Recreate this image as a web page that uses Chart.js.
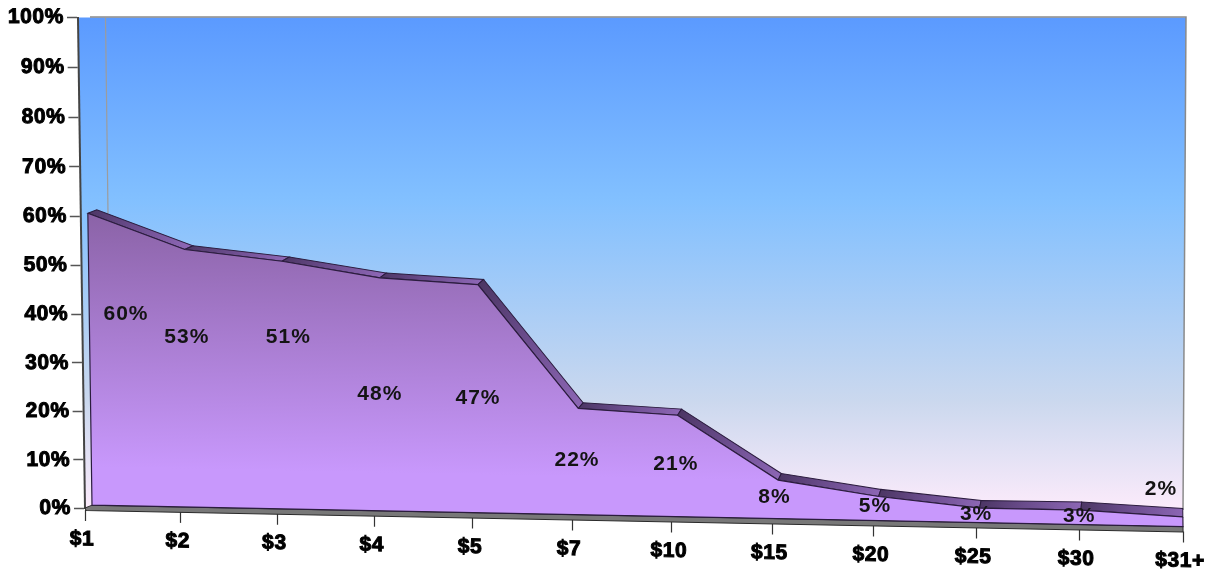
<!DOCTYPE html>
<html>
<head>
<meta charset="utf-8">
<style>html,body{margin:0;padding:0;background:#fff}canvas{display:block}</style>
<script src="https://cdn.jsdelivr.net/npm/chart.js@4/dist/chart.umd.js"></script>
</head>
<body>
<canvas id="c" width="1223" height="571"></canvas>
<script>
const priceLabels = ['$1','$2','$3','$4','$5','$7','$10','$15','$20','$25','$30','$31+'];
const shareValues = [60,53,51,48,47,22,21,8,5,3,3,2];
const percentStep = 10;

// where the value captions sit: sideways nudge in px, height in axis percent
const captionNudge = [41,6,11,5,5,5,4,2,1,0,0,-22];
const captionLevel = [40,35.3,35.3,23.5,22.8,10,9,2.2,0.4,-1.3,-1.7,4];

const TILT = 0.0196, LEAN = 0.0143;
const warp = (d, a) => d * (a + (1 - a) * d);

class TiltedCategory extends Chart.CategoryScale {
  static id = 'tiltedCategory';
  static defaults = Chart.CategoryScale.defaults;
  getPixelForValue(v) {
    const d = v / (this.getLabels().length - 1);
    return this.left + 7 + (this.width - 7) * warp(d, 0.97);
  }
  getPixelForTick(i) {
    const d = this.ticks[i].value / (this.getLabels().length - 1);
    return this.left + this.width * warp(d, 0.9556);
  }
  draw(area) {
    const ctx = this.ctx;
    ctx.save();
    ctx.letterSpacing = '0.6px';
    ctx.transform(1, TILT, 0, 1, 0, -TILT * this.left + 2);
    super.draw(area);
    ctx.restore();
  }
}
class LeaningLinear extends Chart.LinearScale {
  static id = 'leaningLinear';
  static defaults = Chart.LinearScale.defaults;
  getPixelForDecimal(d) { return super.getPixelForDecimal(warp(d, 0.98)); }
  draw(area) {
    const ctx = this.ctx;
    ctx.save();
    ctx.letterSpacing = '0.6px';
    ctx.transform(1, 0, LEAN, 1, -LEAN * this.bottom, 0);
    super.draw(area);
    ctx.restore();
  }
}
Chart.register(TiltedCategory, LeaningLinear);

const ctx = document.getElementById('c').getContext('2d');
const faceGrad = ctx.createLinearGradient(0, 213, 0, 470);
faceGrad.addColorStop(0, '#8a62a6');
faceGrad.addColorStop(1, '#c898fc');

function faceTransform(c, chart) {
  const a = chart.chartArea;
  c.transform(1, TILT, LEAN, 1, -LEAN * a.bottom, -TILT * a.left - 3);
}

const scene = {
  id: 'scene',
  beforeDraw(chart) {
    const c = chart.ctx, a = chart.chartArea;
    const g = c.createLinearGradient(0, a.top, 0, a.bottom + 2);
    g.addColorStop(0, '#5b9aff');
    g.addColorStop(0.37, '#82c0ff');
    g.addColorStop(0.78, '#cbd8ee');
    g.addColorStop(1, '#fcebfb');
    c.save();
    c.fillStyle = g;
    c.beginPath();
    c.moveTo(a.left - 7, a.top);
    c.lineTo(a.right + 3, a.top);
    c.lineTo(a.right, a.bottom + 18);
    c.lineTo(a.left, a.bottom);
    c.closePath();
    c.fill();
    // top and right rim of the back wall
    c.strokeStyle = '#8a8a8a';
    c.lineWidth = 1.5;
    c.beginPath();
    c.moveTo(a.left + 5, a.top - 0.5);
    c.lineTo(a.right + 3, a.top - 0.5);
    c.lineTo(a.right, a.bottom + 2);
    c.stroke();
    // inner corner of the walls
    c.strokeStyle = '#9c9c9c';
    c.lineWidth = 1.2;
    c.beginPath();
    c.moveTo(a.left + 20.5, a.top);
    c.lineTo(a.left + 23, a.top + 196);
    c.stroke();
    c.restore();
  },
  beforeDatasetsDraw(chart) {
    const c = chart.ctx, a = chart.chartArea;
    const pts = chart.getDatasetMeta(0).data;
    const y0 = chart.scales.y.getPixelForValue(0);
    const n = pts.length;
    c.save();
    faceTransform(c, chart);
    // floor strip
    c.fillStyle = '#787878';
    c.strokeStyle = '#2a2a2a';
    c.lineWidth = 1;
    c.beginPath();
    c.moveTo(pts[0].x, y0);
    c.lineTo(pts[n - 1].x, y0);
    c.lineTo(pts[n - 1].x, y0 + 5.5);
    c.lineTo(a.left + 1, y0 + 5.5);
    c.lineTo(a.left, y0 + 3);
    c.closePath();
    c.fill();
    c.stroke();
    // depth band along the top of the area
    const shift = i => ({ dx: 9 * (1 - i / (n - 1)), dy: -3.5 - 5 * i / (n - 1) });
    for (let i = 0; i < n - 1; i++) {
      const p = pts[i], q = pts[i + 1], s = shift(i), t = shift(i + 1);
      const g = c.createLinearGradient(p.x, p.y, q.x, q.y);
      g.addColorStop(0, '#4c3664');
      g.addColorStop(0.45, '#6a4c8c');
      g.addColorStop(1, '#8c66b4');
      c.fillStyle = g;
      c.strokeStyle = '#2b1c3e';
      c.beginPath();
      c.moveTo(p.x, p.y);
      c.lineTo(p.x + s.dx, p.y + s.dy);
      c.lineTo(q.x + t.dx, q.y + t.dy);
      c.lineTo(q.x, q.y);
      c.closePath();
      c.fill();
      c.stroke();
    }
    c.restore();
    // the dataset itself is drawn under the same tilt; afterDatasetsDraw restores this
    c.save();
    faceTransform(c, chart);
  },
  afterDatasetsDraw(chart) {
    const c = chart.ctx;
    const pts = chart.getDatasetMeta(0).data;
    const y0 = chart.scales.y.getPixelForValue(0);
    const n = pts.length;
    c.strokeStyle = '#2b1c3e';
    c.lineWidth = 1.2;
    c.beginPath();
    c.moveTo(pts[0].x, pts[0].y);
    c.lineTo(pts[0].x, y0);
    c.lineTo(pts[n - 1].x, y0);
    c.lineTo(pts[n - 1].x, pts[n - 1].y);
    c.stroke();
    c.restore();
    // value captions
    c.save();
    c.font = 'bold 21px "Liberation Sans", Arial, sans-serif';
    c.letterSpacing = '1px';
    c.fillStyle = '#141414';
    c.textAlign = 'center';
    c.textBaseline = 'middle';
    const xs = chart.scales.x, ys = chart.scales.y;
    shareValues.forEach((v, i) => {
      c.fillText(v + '%', xs.getPixelForTick(i) + captionNudge[i], ys.getPixelForValue(captionLevel[i]));
    });
    c.restore();
  }
};

const tickFont = { family: '"Liberation Sans", Arial, sans-serif', weight: 'bold', size: 21 };

new Chart(ctx, {
  type: 'line',
  data: {
    labels: priceLabels,
    datasets: [{
      data: shareValues,
      fill: 'origin',
      backgroundColor: faceGrad,
      borderColor: '#2b1c3e',
      borderWidth: 1.2,
      pointRadius: 0,
      tension: 0,
      clip: false
    }]
  },
  options: {
    responsive: false,
    animation: false,
    layout: { padding: { top: 17.5, right: 40, left: 0, bottom: 0 } },
    plugins: { legend: { display: false }, tooltip: { enabled: false }, title: { display: false } },
    scales: {
      x: {
        type: 'tiltedCategory',
        offset: false,
        afterFit(s) { s.height = 63; },
        grid: { drawOnChartArea: false, drawTicks: true, tickLength: 11, color: '#333', tickWidth: 1.2 },
        border: { display: false },
        ticks: {
          color: '#000', font: tickFont, padding: 6, labelOffset: -3,
          maxRotation: 0, minRotation: 0, autoSkip: false,
          textStrokeColor: '#000', textStrokeWidth: 1
        }
      },
      y: {
        type: 'leaningLinear',
        min: 0, max: 100,
        afterFit(s) { s.width = 85; },
        grid: { drawOnChartArea: false, drawTicks: true, tickLength: 11, color: '#555', tickWidth: 1.5 },
        border: { display: true, color: '#444', width: 2 },
        ticks: {
          stepSize: percentStep, color: '#000', font: tickFont, padding: 3,
          callback: v => v + '%',
          textStrokeColor: '#000', textStrokeWidth: 1
        }
      }
    }
  },
  plugins: [scene]
});
</script>
</body>
</html>
